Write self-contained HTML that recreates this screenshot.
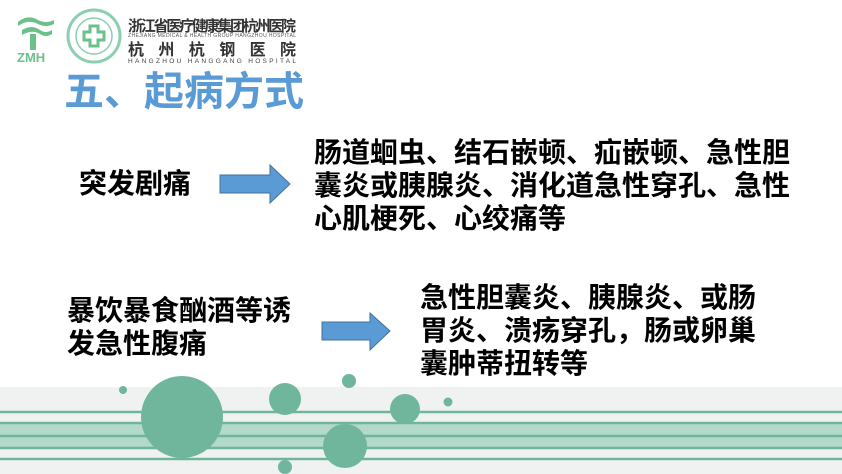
<!DOCTYPE html>
<html><head><meta charset="utf-8"><style>
body{margin:0;width:842px;height:474px;overflow:hidden;background:#fff;position:relative;font-family:"Liberation Sans","Noto Sans CJK SC",sans-serif}
.t{position:absolute;color:#000;font-size:28px;line-height:33px;font-weight:bold;white-space:nowrap}
</style></head><body>
<svg width="842" height="474" style="position:absolute;left:0;top:0">
<rect x="0" y="387" width="842" height="87" fill="#f0f2f1"/>
<rect x="0" y="423" width="842" height="25" fill="#b3d9cb"/>
<g stroke="#6fb59c" stroke-width="2.5"><line x1="0" y1="412" x2="842" y2="412"/><line x1="0" y1="423" x2="842" y2="423"/><line x1="0" y1="436" x2="842" y2="436"/><line x1="0" y1="448" x2="842" y2="448"/><line x1="0" y1="459" x2="842" y2="459"/></g>
<g fill="#70b69d"><circle cx="182" cy="417" r="41"/><circle cx="285" cy="399" r="16"/><circle cx="349" cy="381" r="7"/><circle cx="405" cy="409" r="15"/><circle cx="448" cy="402" r="4.5"/><circle cx="123" cy="390" r="4"/><circle cx="345" cy="446" r="22"/><circle cx="285" cy="467" r="7"/></g>
<polygon points="220,175 270,175 270,165 290,184 270,203 270,193 220,193" fill="#5b9bd5" stroke="#41719c" stroke-width="1"/>
<polygon points="322,322 370,322 370,313 390,331 370,350 370,340 322,340" fill="#5b9bd5" stroke="#41719c" stroke-width="1"/>
<g fill="#6cc08a"><path d="M18 22 q10-8 20-2 q8 4 16 0 l0 4 q-8 4-16 0 q-10-5-20 2z"/><path d="M22 30 q10-6 18 0 q6 4 12 0 l0 4 q-6 4-12 0 q-8-5-18 1z"/><rect x="30" y="34" width="6" height="16"/></g>
<text x="17" y="62" font-family="Liberation Sans" font-weight="bold" font-size="13" fill="#6cc08a">ZMH</text>
<circle cx="94" cy="36" r="26" fill="none" stroke="#8bcfae" stroke-width="3"/>
<circle cx="94" cy="36" r="18" fill="none" stroke="#8bcfae" stroke-width="1.5"/>
<path d="M90 26h8v6h6v8h-6v6h-8v-6h-6v-8h6z" fill="none" stroke="#6cc08a" stroke-width="3"/>
<text x="128" y="31" font-size="15" font-weight="bold" fill="#333" font-family="Liberation Sans,Noto Sans CJK SC,sans-serif" textLength="168">浙江省医疗健康集团杭州医院</text>
<text x="128" y="37" font-size="5" fill="#555" font-family="Liberation Sans" textLength="168">ZHEJIANG MEDICAL &amp; HEALTH GROUP HANGZHOU HOSPITAL</text>
<text x="128" y="55" font-size="16" font-weight="bold" fill="#333" font-family="Noto Sans CJK SC,sans-serif" textLength="168">杭州杭钢医院</text>
<text x="128" y="63" font-size="6.5" fill="#444" font-family="Liberation Sans" textLength="168">HANGZHOU HANGGANG HOSPITAL</text>
</svg>
<div class="t" style="left:64px;top:68px;font-size:40px;line-height:48px;color:#5b9bd5;font-weight:bold">五、起病方式</div>
<div class="t" style="left:79px;top:167px">突发剧痛</div>
<div class="t" style="left:314px;top:136px">肠道蛔虫、结石嵌顿、疝嵌顿、急性胆<br>囊炎或胰腺炎、消化道急性穿孔、急性<br>心肌梗死、心绞痛等</div>
<div class="t" style="left:67px;top:294px">暴饮暴食酗酒等诱<br>发急性腹痛</div>
<div class="t" style="left:420px;top:281px">急性胆囊炎、胰腺炎、或肠<br>胃炎、溃疡穿孔，肠或卵巢<br>囊肿蒂扭转等</div>
</body></html>
